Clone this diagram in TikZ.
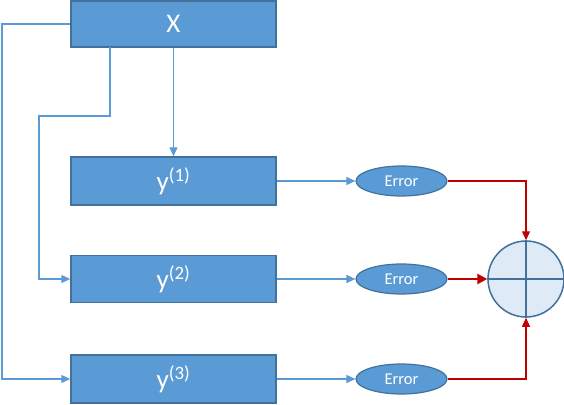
\documentclass[tikz,border=0pt]{standalone}
\usepackage{fontspec}
\setmainfont{Carlito}
\usetikzlibrary{arrows.meta,shapes.geometric}
\definecolor{boxblue}{HTML}{5B9BD5}
\definecolor{boxedge}{HTML}{41719C}
\definecolor{sumfill}{HTML}{DEEAF6}
\definecolor{errred}{HTML}{C00000}
\tikzset{
  box/.style={draw=boxedge, line width=1.5pt, fill=boxblue, text=white, minimum width=205pt, inner sep=0pt, font=\fontsize{27}{27}\selectfont},
  errnode/.style={ellipse, draw=boxedge, line width=1.2pt, fill=boxblue, text=white, minimum width=91pt, minimum height=30pt, inner sep=0pt, font=\fontsize{16.5}{16.5}\selectfont},
  sumnode/.style={circle, draw=boxedge, line width=1.5pt, fill=sumfill, minimum size=76pt, inner sep=0pt},
  bl/.style={draw=boxblue, line width=1.2pt},
  blarrow/.style={bl, -{Triangle[length=9pt,width=8pt]}},
  rd/.style={draw=errred, line width=1.3pt, -{Triangle[length=9pt,width=8pt]}},
}
\begin{document}
\begin{tikzpicture}[x=1pt,y=-1pt]
\useasboundingbox (0,0) rectangle (564,404);
\node[box, minimum height=46pt] (X) at (173.5,24) {X};
\node[box, minimum height=48pt] (y1) at (173.5,181) {y\textsuperscript{(1)}};
\node[box, minimum height=47pt] (y2) at (173.5,279) {y\textsuperscript{(2)}};
\node[box, minimum height=48pt] (y3) at (173.5,379) {y\textsuperscript{(3)}};
\node[errnode] (e1) at (401.5,181) {Error};
\node[errnode] (e2) at (401.5,279) {Error};
\node[errnode] (e3) at (401.5,379) {Error};
\node[sumnode] (s) at (526,279) {};
\draw[boxedge, line width=1.5pt] (s.north) -- (s.south) (s.west) -- (s.east);
% blue connectors
\coordinate (c1) at (2,24);
\draw[blarrow] (X.west) -- (c1) |- (y3.west);
\coordinate (xs2) at (110,47);
\coordinate (c2) at (39,116);
\draw[blarrow] (xs2) |- (c2) |- (y2.west);
\draw[blarrow] (X.south) -- (y1.north);
\draw[blarrow] (y1.east) -- (e1.west);
\draw[blarrow] (y2.east) -- (e2.west);
\draw[blarrow] (y3.east) -- (e3.west);
% red connectors
\draw[rd] (e1.east) -| (s.north);
\draw[rd, line width=2.6pt, -{Triangle[length=10pt,width=10pt]}] (e2.east) -- (s.west);
\draw[rd] (e3.east) -| (s.south);
\end{tikzpicture}
\end{document}
